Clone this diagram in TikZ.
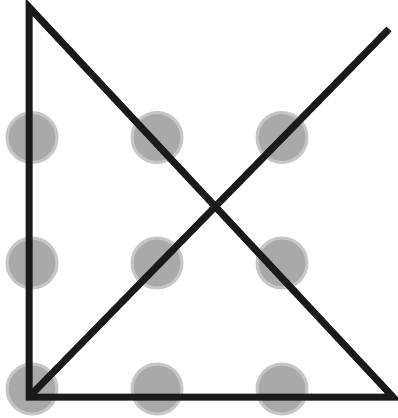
\documentclass[tikz,border=0pt]{standalone}
\definecolor{dotfill}{HTML}{A9A9A9}
\definecolor{dotring}{HTML}{C6C6C6}
\definecolor{ink}{HTML}{1A1A1A}
\begin{document}
\begin{tikzpicture}[x=1pt,y=-1pt,
  dot/.style={circle,fill=dotfill,draw=dotring,line width=3pt,minimum size=50pt,inner sep=0pt},
  stroke/.style={draw=ink,line width=7pt,line join=miter}]
\useasboundingbox (0,0) rectangle (397,418);
\foreach \i/\x in {1/32,2/157,3/282}{
  \foreach \j/\y in {1/137.5,2/263,3/389}{
    \node[dot] (d\i\j) at (\x,\y) {};
  }
}
\coordinate (A) at (29,7);
\coordinate (B) at (29,397);
\coordinate (C) at (393,397);
\coordinate (D) at (389,29);
\draw[stroke] (A) -- (B) -- (C) -- cycle;
\draw[stroke] (B) -- (D);
\end{tikzpicture}
\end{document}
